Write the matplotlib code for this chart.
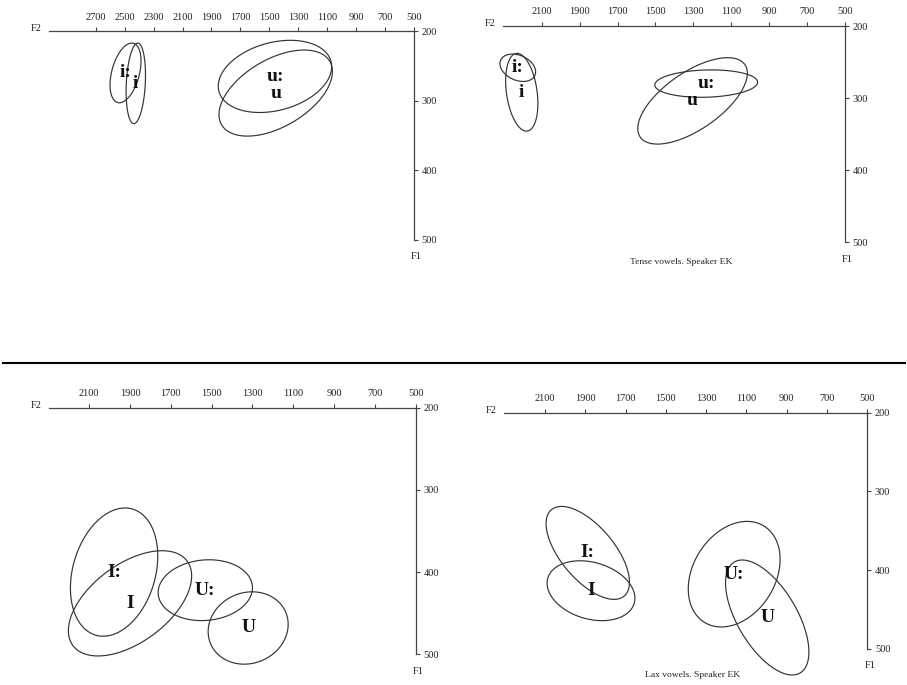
import matplotlib.pyplot as plt
import numpy as np
from matplotlib.lines import Line2D

plt.rcParams['font.family'] = ['Liberation Serif', 'DejaVu Serif']

W, H = 907, 685

# vowel ellipses: mean F2, mean F1, half-spread F2, half-spread F1, F2/F1 correlation
# panel 1 (top left)
p1_labels = ["i:", "i", "u:", "u"]
p1_f2 = [2494, 2423, 1461, 1456]
p1_f1 = [260, 275, 265, 289]
p1_s2 = [107, 67, 392, 392]
p1_s1 = [43, 58, 52, 62]
p1_r = [0.40, 0.20, 0.27, 0.50]
p1_xticks = [2700, 2500, 2300, 2100, 1900, 1700, 1500, 1300, 1100, 900, 700, 500]

# panel 2 (top right) - tense vowels
p2_labels = ["i:", "i", "u:", "u"]
p2_f2 = [2226, 2205, 1232, 1304]
p2_f1 = [258, 292, 280, 304]
p2_s2 = [94, 85, 271, 289]
p2_s1 = [19, 54, 19, 60]
p2_r = [-0.30, -0.29, 0.10, 0.64]

# panel 3 (bottom left)
p3_labels = ["I:", "I", "U:", "U"]
p3_f2 = [1978, 1900, 1531, 1321]
p3_f1 = [400, 438, 422, 468]
p3_s2 = [214, 302, 231, 196]
p3_s1 = [78, 64, 37, 44]
p3_r = [0.25, 0.52, 0.08, 0.10]

# panel 4 (bottom right) - lax vowels
p4_labels = ["I:", "I", "U:", "U"]
p4_f2 = [1888, 1872, 1161, 997]
p4_f1 = [378, 426, 405, 460]
p4_s2 = [207, 218, 228, 207]
p4_s1 = [59, 38, 67, 73]
p4_r = [-0.63, -0.25, 0.28, -0.60]

small_xticks = [2100, 1900, 1700, 1500, 1300, 1100, 900, 700, 500]
yticks = [200, 300, 400, 500]

fig = plt.figure(figsize=(W / 100, H / 100), dpi=100)
fig.patch.set_facecolor('white')


def make_axes(left, right, top, bottom):
    # box given in image pixels
    return fig.add_axes([left / W, 1 - bottom / H, (right - left) / W, (bottom - top) / H])


def draw_panel(ax, f2max, xticks, labels, f2, f1, s2, s1, r):
    ax.set_xlim(f2max, 500)
    ax.set_ylim(500, 200)
    ax.patch.set_visible(False)
    ax.spines['left'].set_visible(False)
    ax.spines['bottom'].set_visible(False)
    for s in ['top', 'right']:
        ax.spines[s].set_linewidth(0.9)
        ax.spines[s].set_color('#444444')
    ax.xaxis.tick_top()
    ax.yaxis.tick_right()
    ax.set_xticks(xticks)
    ax.set_yticks(yticks)
    ax.tick_params(axis='x', direction='out', length=3, width=0.8, pad=4,
                   labelsize=7.5, color='#444444', labelcolor='#222222')
    ax.tick_params(axis='y', direction='out', length=3, width=0.8, pad=2.5,
                   labelsize=7.5, color='#444444', labelcolor='#222222')
    ax.annotate("F2", xy=(0, 1), xycoords='axes fraction', xytext=(-5, 0),
                textcoords='offset points', ha='right', va='baseline',
                fontsize=7.5, color='#222222')
    ax.annotate("F1", xy=(1, 0), xycoords='axes fraction', xytext=(-2, -9),
                textcoords='offset points', ha='left', va='top',
                fontsize=7.5, color='#222222')
    t = np.linspace(0, 2 * np.pi, 240, endpoint=False)
    for i in range(len(labels)):
        x = f2[i] + s2[i] * np.cos(t)
        y = f1[i] + s1[i] * (r[i] * np.cos(t) + np.sqrt(1 - r[i] ** 2) * np.sin(t))
        ax.fill(x, y, facecolor='none', edgecolor='#333333', lw=0.85, clip_on=False)
        ax.text(f2[i], f1[i], labels[i], ha='center', va='center',
                fontsize=14, fontweight='bold', color='#111111')


ax1 = make_axes(49, 414, 31.3, 239.5)
draw_panel(ax1, 3023, p1_xticks, p1_labels, p1_f2, p1_f1, p1_s2, p1_s1, p1_r)

ax2 = make_axes(503, 845, 26, 242)
draw_panel(ax2, 2304, small_xticks, p2_labels, p2_f2, p2_f1, p2_s2, p2_s1, p2_r)

ax3 = make_axes(49, 415.7, 407.7, 654.3)
draw_panel(ax3, 2297, small_xticks, p3_labels, p3_f2, p3_f1, p3_s2, p3_s1, p3_r)

ax4 = make_axes(504, 867.3, 412.7, 649)
draw_panel(ax4, 2304, small_xticks, p4_labels, p4_f2, p4_f1, p4_s2, p4_s1, p4_r)

fig.text(681 / W, 1 - 262 / H, "Tense vowels. Speaker EK", ha='center', va='center',
         fontsize=6.8, color='#222222')
fig.text(693 / W, 1 - 675 / H, "Lax vowels. Speaker EK", ha='center', va='center',
         fontsize=6.8, color='#222222')

# separator between the two rows
fig.add_artist(Line2D([3 / W, 905 / W], [1 - 363 / H, 1 - 363 / H],
                      color='black', lw=1.5))

fig.savefig("out.png", dpi=100)
